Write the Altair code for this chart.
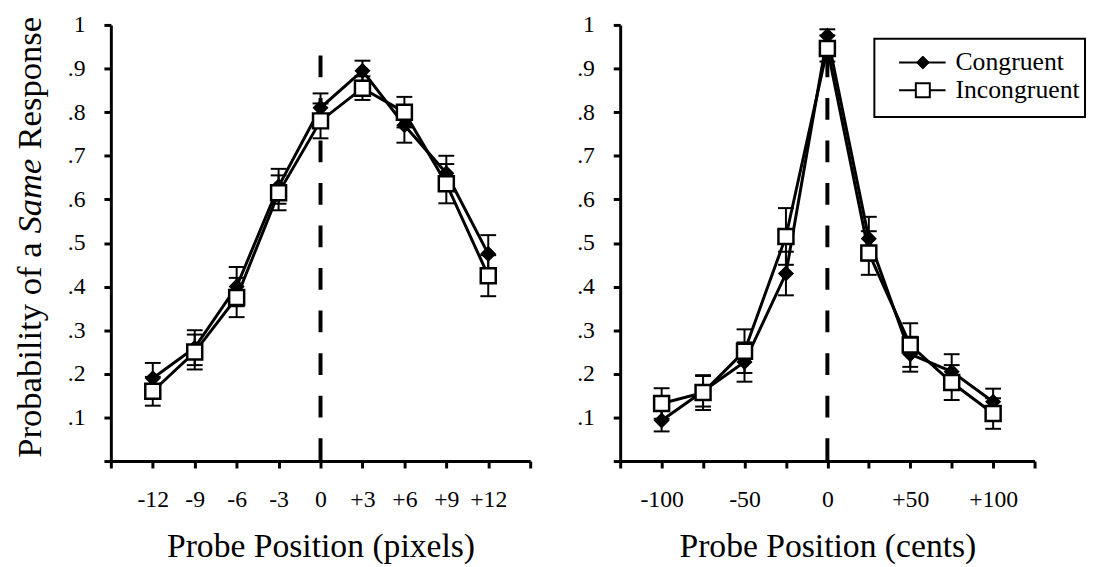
import altair as alt
import pandas as pd

# ---------------- data ----------------
series_names = ["Congruent", "Incongruent"]

left_x = [-12, -9, -6, -3, 0, 3, 6, 9, 12]
left_cong = [0.19, 0.26, 0.40, 0.63, 0.81, 0.895, 0.77, 0.66, 0.475]
left_cong_err = [0.035, 0.04, 0.045, 0.04, 0.033, 0.023, 0.04, 0.04, 0.043]
left_incong = [0.16, 0.25, 0.375, 0.615, 0.78, 0.855, 0.80, 0.636, 0.425]
left_incong_err = [0.033, 0.04, 0.045, 0.04, 0.04, 0.027, 0.035, 0.045, 0.047]

right_x = [-100, -75, -50, -25, 0, 25, 50, 75, 100]
right_cong = [0.093, 0.16, 0.227, 0.43, 0.975, 0.51, 0.245, 0.205, 0.136]
right_cong_err = [0.025, 0.035, 0.045, 0.05, 0.015, 0.05, 0.04, 0.04, 0.03]
right_incong = [0.132, 0.157, 0.252, 0.515, 0.946, 0.477, 0.266, 0.18, 0.109]
right_incong_err = [0.035, 0.04, 0.05, 0.065, 0.03, 0.05, 0.05, 0.04, 0.035]

left_ticks = [-15, -12, -9, -6, -3, 0, 3, 6, 9, 12, 15]
right_ticks = [-125, -100, -75, -50, -25, 0, 25, 50, 75, 100, 125]
y_ticks = [0, 0.1, 0.2, 0.3, 0.4, 0.5, 0.6, 0.7, 0.8, 0.9, 1.0]
dash_top = 0.93

FONT = "Liberation Serif"


def make_frames(xs, cong, cong_err, incong, incong_err):
    rows, errs, caps = [], [], []
    for name, vals, es in [("Congruent", cong, cong_err), ("Incongruent", incong, incong_err)]:
        for x, v, e in zip(xs, vals, es):
            rows.append({"x": x, "y": v, "series": name})
            errs.append({"x": x, "lo": v - e, "hi": v + e, "series": name})
            caps.append({"x": x, "y": v - e, "series": name})
            caps.append({"x": x, "y": v + e, "series": name})
    return pd.DataFrame(rows), pd.DataFrame(errs), pd.DataFrame(caps)


Y_LABELS = "datum.value > 0.99 ? '1' : (datum.value < 0.05 ? '' : '.' + round(datum.value*10))"


def panel(xs, cong, cong_err, incong, incong_err, ticks, label_expr, xtitle):
    df, err, caps = make_frames(xs, cong, cong_err, incong, incong_err)
    xscale = alt.Scale(domain=[ticks[0], ticks[-1]], nice=False, zero=False)
    yscale = alt.Scale(domain=[0, 1], nice=False, zero=False)
    xaxis = alt.Axis(values=ticks, labelExpr=label_expr, title=xtitle, labelPadding=20,
                     titlePadding=19, labelFlush=False)
    yaxis = alt.Axis(values=y_ticks, title=None, labelPadding=19, labelExpr=Y_LABELS)

    X = alt.X("x:Q", scale=xscale, axis=xaxis)
    Y = alt.Y("y:Q", scale=yscale, axis=yaxis)

    dash_df = pd.DataFrame({"x": [0], "y": [dash_top], "y0": [0]})
    dashed = alt.Chart(dash_df).mark_rule(color="black", strokeWidth=4, strokeDash=[22, 21]).encode(
        x=X, y=Y, y2="y0:Q")

    ebar = alt.Chart(err).mark_rule(color="black", strokeWidth=2).encode(
        x=X, y=alt.Y("lo:Q", scale=yscale, axis=yaxis), y2="hi:Q")
    cap = alt.Chart(caps).mark_point(shape="M-1,0L1,0", size=256, stroke="black",
                                     strokeWidth=2, filled=False, opacity=1).encode(x=X, y=Y)
    lines = alt.Chart(df).mark_line(color="black", strokeWidth=3).encode(
        x=X, y=Y, detail="series:N")
    dia = alt.Chart(df).transform_filter("datum.series == 'Congruent'").mark_point(
        shape="diamond", size=200, filled=True, fill="black", stroke="black", strokeWidth=1.5,
        opacity=1).encode(x=X, y=Y)
    sq = alt.Chart(df).transform_filter("datum.series == 'Incongruent'").mark_point(
        shape="square", size=230, filled=True, fill="white", stroke="black", strokeWidth=2.5,
        opacity=1).encode(x=X, y=Y)

    return [dashed, ebar, cap, lines, dia, sq]


left_expr = "abs(datum.value) > 14 ? '' : (datum.value > 0 ? '+' + datum.value : '' + datum.value)"
right_expr = ("indexof([-100,-50,0,50,100], datum.value) < 0 ? '' : "
              "(datum.value > 0 ? '+' + datum.value : '' + datum.value)")

left_layers = panel(left_x, left_cong, left_cong_err, left_incong, left_incong_err,
                    left_ticks, left_expr, "Probe Position (pixels)")
right_layers = panel(right_x, right_cong, right_cong_err, right_incong, right_incong_err,
                     right_ticks, right_expr, "Probe Position (cents)")

# y-axis title with an italic word, built from text marks
one = pd.DataFrame({"k": [0]})
TS = 35
ytitle_center = 173
ytitle_x = -82
ytxt1 = alt.Chart(one).mark_text(text="Probability of a", angle=270, align="right", baseline="middle",
                                 font=FONT, fontSize=TS, color="black").encode(
    x=alt.value(ytitle_x), y=alt.value(ytitle_center + 47))
ytxt2 = alt.Chart(one).mark_text(text="Same", angle=270, align="center", baseline="middle",
                                 font=FONT, fontSize=TS, fontStyle="italic", color="black").encode(
    x=alt.value(ytitle_x), y=alt.value(ytitle_center))
ytxt3 = alt.Chart(one).mark_text(text="Response", angle=270, align="left", baseline="middle",
                                 font=FONT, fontSize=TS, color="black").encode(
    x=alt.value(ytitle_x), y=alt.value(ytitle_center - 47))
# invisible spacer that fixes the left extent of the chart
spacer = alt.Chart(one).mark_rule(strokeOpacity=0, strokeWidth=1).encode(
    x=alt.value(-104), y=alt.value(100), y2=alt.value(110))

# legend drawn inside the right panel
leg_box = alt.Chart(one).mark_rect(fill="white", stroke="black", strokeWidth=2).encode(
    x=alt.value(257), x2=alt.value(470), y=alt.value(14), y2=alt.value(93))
leg_line1 = alt.Chart(one).mark_rule(color="black", strokeWidth=2).encode(
    x=alt.value(282), x2=alt.value(329), y=alt.value(38))
leg_line2 = alt.Chart(one).mark_rule(color="black", strokeWidth=2).encode(
    x=alt.value(282), x2=alt.value(329), y=alt.value(66))
leg_dia = alt.Chart(one).mark_point(shape="diamond", size=170, filled=True, fill="black",
                                    stroke="black", strokeWidth=1, opacity=1).encode(
    x=alt.value(306), y=alt.value(38))
leg_sq = alt.Chart(one).mark_point(shape="square", size=200, filled=True, fill="white",
                                   stroke="black", strokeWidth=2, opacity=1).encode(
    x=alt.value(306), y=alt.value(66))
leg_t1 = alt.Chart(one).mark_text(text=series_names[0], align="left", baseline="middle",
                                  font=FONT, fontSize=26, color="black").encode(
    x=alt.value(339), y=alt.value(38))
leg_t2 = alt.Chart(one).mark_text(text=series_names[1], align="left", baseline="middle",
                                  font=FONT, fontSize=26, color="black").encode(
    x=alt.value(339), y=alt.value(66))

left = alt.layer(*left_layers, ytxt1, ytxt2, ytxt3, spacer).properties(width=424, height=441)
right = alt.layer(*right_layers, leg_box, leg_line1, leg_line2, leg_dia, leg_sq,
                  leg_t1, leg_t2).properties(width=419, height=441)

chart = alt.hconcat(left, right, spacing=45).properties(
    padding={"left": 0, "top": 2, "right": 0, "bottom": 0}
).configure_view(stroke=None).configure_axis(
    domainColor="black", domainWidth=3, tickColor="black", tickWidth=3, tickSize=7,
    labelFont=FONT, labelFontSize=24, labelColor="black",
    titleFont=FONT, titleFontSize=34, titleFontWeight="normal", titleColor="black",
    grid=False
)

chart.save("out.html", embed_options={"renderer": "svg", "actions": False})
